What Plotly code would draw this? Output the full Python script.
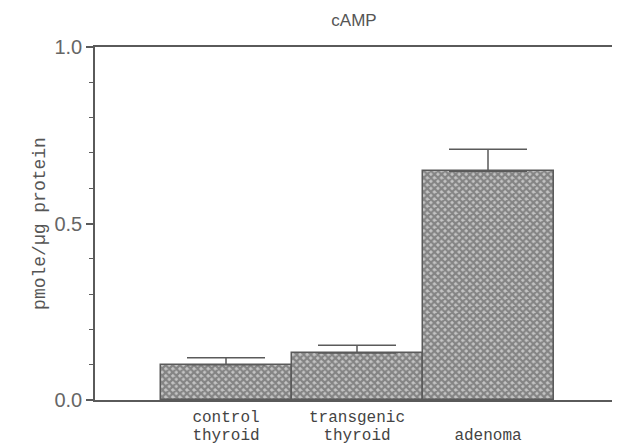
import plotly.graph_objects as go

categories_line1 = ["control", "transgenic", ""]
categories_line2 = ["thyroid", "thyroid", "adenoma"]
values = [0.10, 0.133, 0.648]
errors = [0.020, 0.022, 0.062]
y_ticks = [0.0, 0.5, 1.0]
y_tick_labels = ["0.0", "0.5", "1.0"]

line_col = "#5a5a5a"
x_pos = list(range(len(values)))

# the page places the figure 8 px from the top-left corner
W, H, OFF = 612, 437, 8

fig = go.Figure()
fig.add_trace(go.Bar(
    x=x_pos, y=values, width=1.0,
    marker=dict(
        color="#808080",
        line=dict(color=line_col, width=1.5),
        pattern=dict(shape="x", fgcolor="#444444", bgcolor="#c4c4c4", size=5, solidity=0.7),
    ),
    error_y=dict(type="data", symmetric=False, array=errors, arrayminus=[0] * len(errors),
                 color=line_col, thickness=1.5, width=39),
    showlegend=False,
))
fig.add_trace(go.Scatter(x=x_pos, y=[0] * len(x_pos), xaxis="x2", mode="markers",
                         marker=dict(opacity=0), showlegend=False, hoverinfo="skip"))

tickfont = dict(family="Liberation Mono", size=16, color="#444444")
fig.update_layout(
    width=W, height=H,
    margin=dict(l=95 - OFF, r=1, t=47 - OFF, b=45),
    paper_bgcolor="white", plot_bgcolor="white",
    title=dict(text="cAMP", x=(354 - OFF) / W, xanchor="center", y=1 - (20 - OFF) / H, yanchor="middle",
               font=dict(family="Liberation Sans", size=17, color="#555555")),
    bargap=0,
    xaxis=dict(
        range=[-1, 3], tickvals=x_pos, ticktext=categories_line1,
        showline=True, linecolor=line_col, linewidth=1.5, mirror=True,
        showgrid=False, zeroline=False, ticks="", automargin=False,
        ticklabelstandoff=1, tickfont=tickfont,
    ),
    xaxis2=dict(
        range=[-1, 3], tickvals=x_pos, ticktext=categories_line2,
        overlaying="x", side="bottom", anchor="y",
        showline=False, showgrid=False, zeroline=False, ticks="", automargin=False,
        ticklabelstandoff=23, tickfont=tickfont,
    ),
    yaxis=dict(
        range=[0, 1], tickvals=y_ticks, ticktext=y_tick_labels,
        showline=True, linecolor=line_col, linewidth=1.5, mirror=True,
        showgrid=False, zeroline=False, automargin=False,
        ticks="outside", ticklen=7, tickcolor=line_col, tickwidth=1.5,
        minor=dict(dtick=0.1, ticks="outside", ticklen=4, tickcolor=line_col, tickwidth=1.2, showgrid=False),
        ticklabelstandoff=0,
        tickfont=dict(family="Liberation Sans", size=20, color="#666666"),
        title=dict(text="pmole/µg protein", font=dict(family="Liberation Mono", size=18, color="#555555"),
                   standoff=4),
    ),
)

fig.write_html("out.html")
